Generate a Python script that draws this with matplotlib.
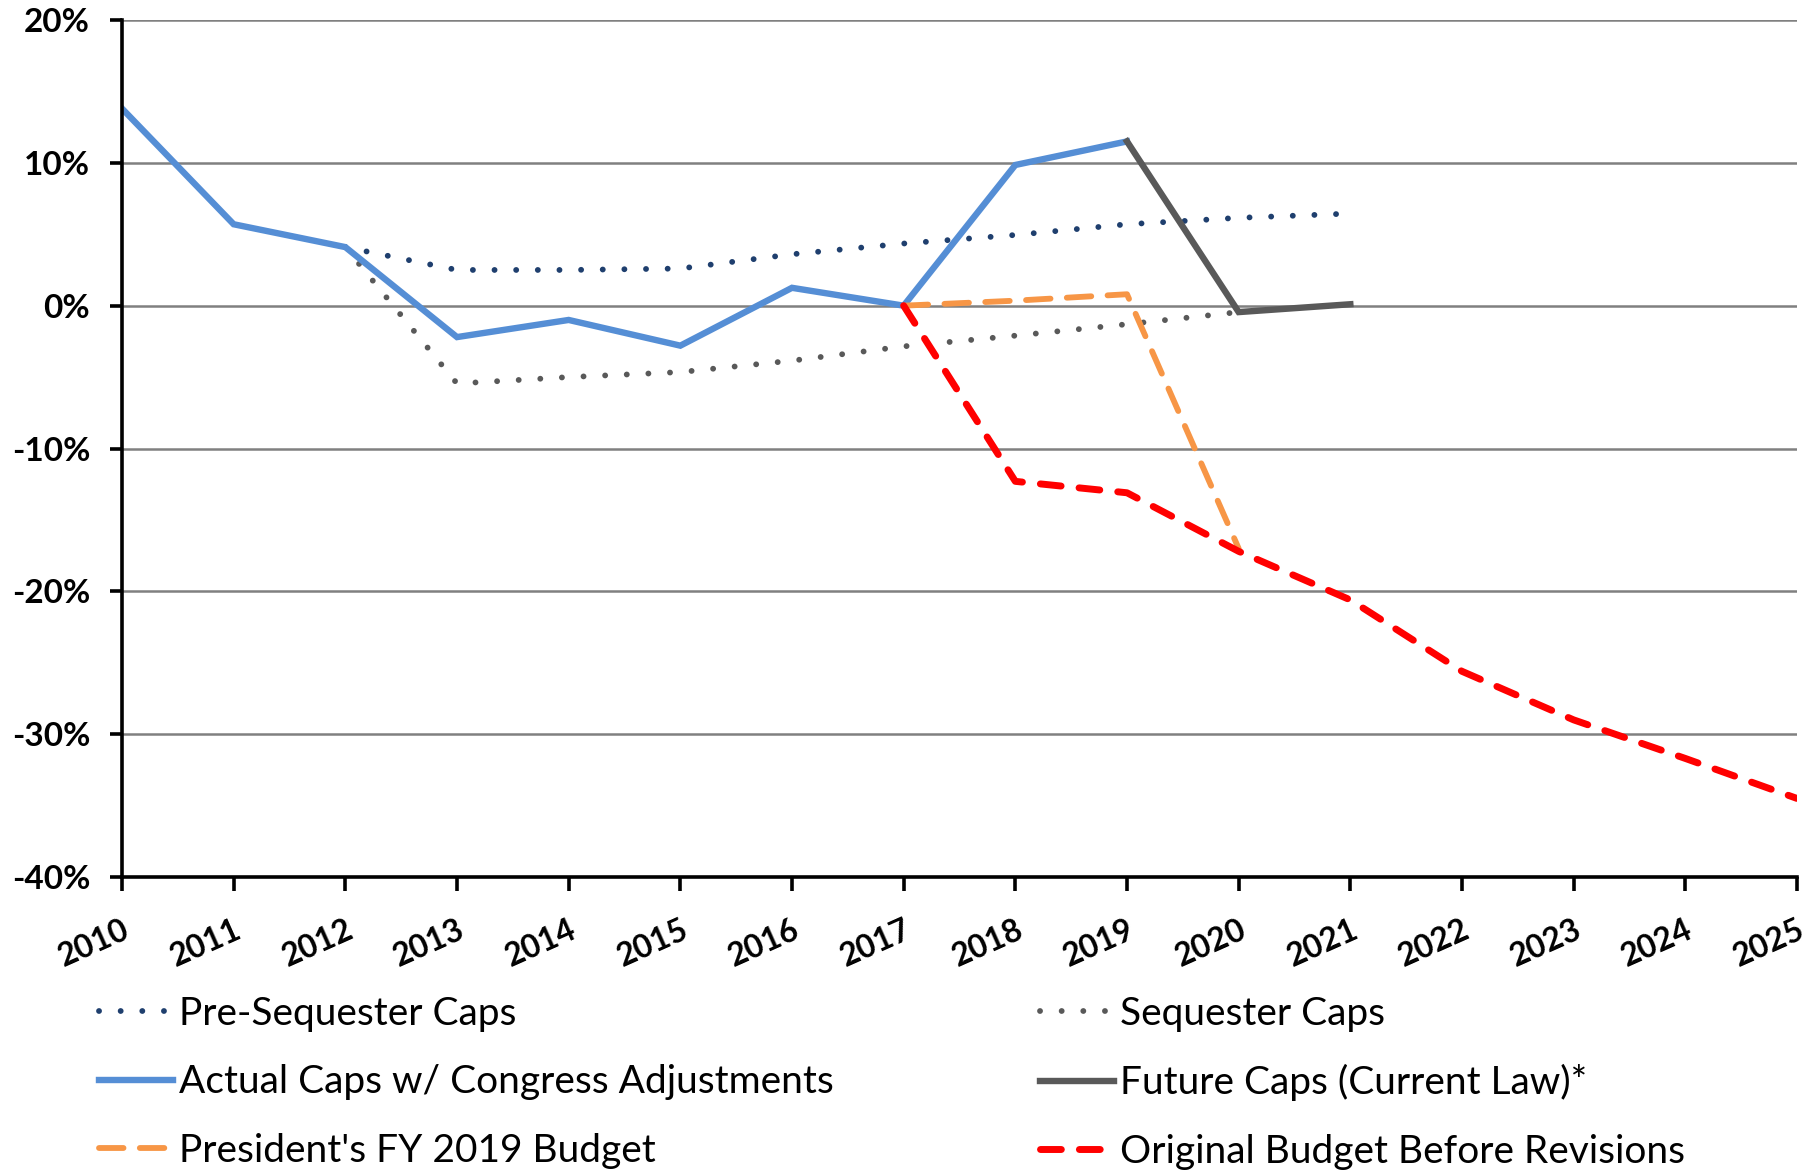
import matplotlib
matplotlib.use("Agg")
import matplotlib.pyplot as plt
from matplotlib.ticker import FuncFormatter, MultipleLocator

years_all = list(range(2010, 2026))

actual_years = [2010, 2011, 2012, 2013, 2014, 2015, 2016, 2017, 2018, 2019]
actual_vals = [13.8, 5.7, 4.1, -2.2, -1.0, -2.8, 1.25, 0.0, 9.85, 11.5]

future_years = [2019, 2020, 2021]
future_vals = [11.5, -0.45, 0.1]

pre_seq_years = [2012, 2013, 2014, 2015, 2016, 2017, 2018, 2019, 2020, 2021]
pre_seq_vals = [4.1, 2.5, 2.5, 2.6, 3.6, 4.35, 4.95, 5.7, 6.15, 6.45]

seq_years = [2012, 2013, 2014, 2015, 2016, 2017, 2018, 2019, 2020]
seq_vals = [4.1, -5.45, -5.0, -4.65, -3.85, -2.85, -2.1, -1.3, -0.45]

pres_years = [2017, 2018, 2019, 2020]
pres_vals = [0.0, 0.35, 0.8, -17.0]

orig_years = [2017, 2018, 2019, 2020, 2021, 2022, 2023, 2024, 2025]
orig_vals = [0.0, -12.3, -13.1, -17.2, -20.6, -25.6, -29.0, -31.7, -34.5]

labels = ["Pre-Sequester Caps", "Sequester Caps",
          "Actual Caps w/ Congress Adjustments", "Future Caps (Current Law)*",
          "President's FY 2019 Budget", "Original Budget Before Revisions"]

FONT = ["Lato", "DejaVu Sans"]
plt.rcParams['font.family'] = FONT

fig = plt.figure(figsize=(18.16, 11.70), dpi=100)
ax = fig.add_axes([122/1816, 1 - 877/1170, (1797-122)/1816, (877-20)/1170])

c_navy = "#1f3f6e"
c_gray_dot = "#595959"
c_blue = "#558ed5"
c_dark = "#595959"
c_orange = "#f79646"
c_red = "#ff0000"

dot_style = (0, (0.01, 3.7))

l_pre, = ax.plot(pre_seq_years, pre_seq_vals, color=c_navy, lw=4.2,
                 linestyle=dot_style, dash_capstyle='round', zorder=3)
l_seq, = ax.plot(seq_years, seq_vals, color=c_gray_dot, lw=4.2,
                 linestyle=dot_style, dash_capstyle='round', zorder=3)
l_act, = ax.plot(actual_years, actual_vals, color=c_blue, lw=4.6,
                 solid_joinstyle='miter', zorder=4)
l_fut, = ax.plot(future_years, future_vals, color=c_dark, lw=4.6,
                 solid_joinstyle='miter', zorder=4)
l_pres, = ax.plot(pres_years, pres_vals, color=c_orange, lw=4.2,
                  linestyle=(0, (4.2, 2.8)), dash_capstyle='round', zorder=5)
l_orig, = ax.plot(orig_years, orig_vals, color=c_red, lw=5.0,
                  linestyle=(0, (3.0, 2.6)), dash_capstyle='round', zorder=6)

ax.set_xlim(2010, 2025)
ax.set_ylim(-40, 20)
ax.yaxis.set_major_locator(MultipleLocator(10))
ax.yaxis.set_major_formatter(FuncFormatter(lambda v, p: f"{int(round(v))}%"))
ax.set_xticks(years_all)
ax.set_xticklabels([str(y) for y in years_all])

ax.grid(axis='y', color='#808080', lw=1.8, zorder=0)
ax.set_axisbelow(True)
for s in ['top', 'right']:
    ax.spines[s].set_visible(False)
for s in ['left', 'bottom']:
    ax.spines[s].set_linewidth(2.6)
    ax.spines[s].set_color('black')
    ax.spines[s].set_zorder(7)

ax.tick_params(axis='y', direction='out', length=9, width=2.6, pad=14,
               labelsize=24)
ax.tick_params(axis='x', direction='out', length=10, width=2.6, pad=17,
               labelsize=23)
for t in ax.get_yticklabels():
    t.set_fontweight('bold')
for t in ax.get_xticklabels():
    t.set_fontweight('bold')
    t.set_rotation(24)
    t.set_ha('right')
    t.set_rotation_mode('anchor')
    t.set_va('top')

left_handles = [l_pre, l_act, l_pres]
right_handles = [l_seq, l_fut, l_orig]
left_labels = [labels[0], labels[2], labels[4]]
right_labels = [labels[1], labels[3], labels[5]]

leg_kw = dict(frameon=False, fontsize=28, handlelength=1.9, handletextpad=0.15,
              labelspacing=0.83, borderpad=0, borderaxespad=0)
leg1 = fig.legend(left_handles, left_labels, loc='upper left',
                  bbox_to_anchor=(99/1816, 1 - 996/1170), **leg_kw)
leg2 = fig.legend(right_handles, right_labels, loc='upper left',
                  bbox_to_anchor=(1040/1816, 1 - 996/1170), **leg_kw)

fig.savefig("out.png", dpi=100)
